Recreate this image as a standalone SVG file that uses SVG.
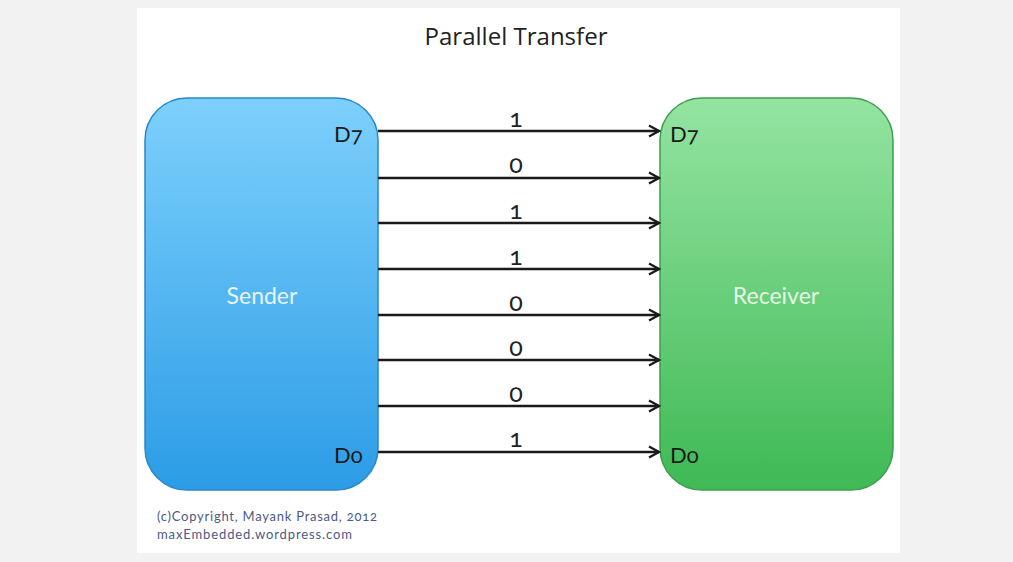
<svg xmlns="http://www.w3.org/2000/svg" width="1013" height="562" viewBox="0 0 1013 562">
<style>
text{font-family:Lato,"Open Sans","Liberation Sans",sans-serif;font-variant-numeric:oldstyle-nums;font-feature-settings:"onum"}
.pin{font-size:22px;fill:#1a1a1a}
.bit{font-size:25px;fill:#222;text-anchor:middle}
.lbl{font-size:23px;text-anchor:middle}
.wire{stroke:#1a1a1a;stroke-width:2.4;fill:none;marker-end:url(#arr)}
.copy{font-size:13px;fill:#4b5a86}
</style>
<defs>
<linearGradient id="gs" x1="0" y1="0" x2="0" y2="1">
<stop offset="0" stop-color="#7dd0fc"/>
<stop offset="1" stop-color="#2b9ce6"/>
</linearGradient>
<linearGradient id="gr" x1="0" y1="0" x2="0" y2="1">
<stop offset="0" stop-color="#94e4a1"/>
<stop offset="1" stop-color="#3fb955"/>
</linearGradient>
<marker id="arr" markerWidth="14" markerHeight="14" refX="12" refY="7" orient="auto" markerUnits="userSpaceOnUse">
<path d="M2,1.5 L12,7 L2,12.5" fill="none" stroke="#1a1a1a" stroke-width="2.2"/>
</marker>
</defs>
<rect x="0" y="0" width="1013" height="562" fill="#f2f2f2"/>
<rect x="137" y="8" width="763" height="545" fill="#ffffff"/>
<text x="516" y="45" font-size="23" text-anchor="middle" fill="#222" style="font-family:'Open Sans','Liberation Sans',sans-serif" textLength="183" lengthAdjust="spacingAndGlyphs">Parallel Transfer</text>
<g id="sender">
<rect x="145" y="98" width="233" height="392" rx="42" fill="url(#gs)" stroke="#2a86c8" stroke-width="1.5"/>
<text class="lbl" x="262" y="304" fill="#e6f4ff">Sender</text>
<text class="pin" x="334" y="142">D7</text>
<text class="pin" x="334" y="463">D0</text>
</g>
<g id="receiver">
<rect x="660" y="98" width="233" height="392" rx="42" fill="url(#gr)" stroke="#3c9f4c" stroke-width="1.5"/>
<text class="lbl" x="776" y="304" fill="#e4f7e4">Receiver</text>
<text class="pin" x="670" y="142">D7</text>
<text class="pin" x="670" y="463">D0</text>
</g>
<g id="connectors">
<line class="wire" x1="378" y1="131" x2="659" y2="131"/>
<line class="wire" x1="378" y1="178" x2="659" y2="178"/>
<line class="wire" x1="378" y1="223" x2="659" y2="223"/>
<line class="wire" x1="378" y1="269" x2="659" y2="269"/>
<line class="wire" x1="378" y1="315" x2="659" y2="315"/>
<line class="wire" x1="378" y1="360" x2="659" y2="360"/>
<line class="wire" x1="378" y1="406" x2="659" y2="406"/>
<line class="wire" x1="378" y1="452" x2="659" y2="452"/>
<text class="bit" x="516" y="127">1</text>
<text class="bit" x="516" y="173">0</text>
<text class="bit" x="516" y="219">1</text>
<text class="bit" x="516" y="265">1</text>
<text class="bit" x="516" y="311">0</text>
<text class="bit" x="516" y="356">0</text>
<text class="bit" x="516" y="402">0</text>
<text class="bit" x="516" y="447">1</text>
</g>
<text class="copy" x="157" y="521" textLength="220" lengthAdjust="spacing">(c)Copyright, Mayank Prasad, 2012</text>
<text class="copy" x="157" y="539" textLength="195" lengthAdjust="spacing">maxEmbedded.wordpress.com</text>
</svg>
